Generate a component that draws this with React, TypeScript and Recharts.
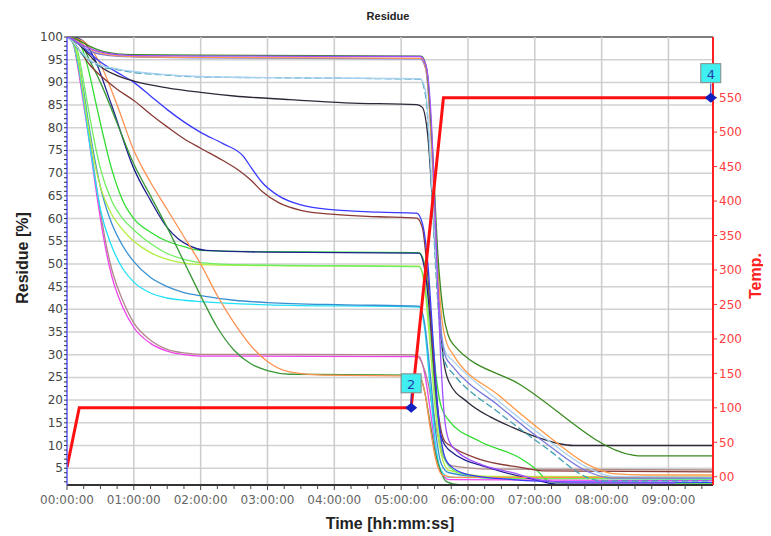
import React from 'react';
import { LineChart, Line, XAxis, YAxis, ReferenceLine, ReferenceDot } from 'recharts';

type Pt = [number, number];

// time in minutes, residue in %
const violet: Pt[] = [[0, 100], [5, 99.6], [10, 98.8], [20, 97.5], [30, 96.7], [45, 96.1], [60, 95.9], [120, 95.8], [317, 95.7], [322, 94], [327, 82], [331, 58], [335, 32], [339, 16], [343, 11], [350, 8.8], [370, 6], [400, 4], [430, 2.2], [460, 1.8], [546, 1.7]];
const olive: Pt[] = [[0, 100], [5, 99.8], [10, 99.3], [20, 98], [30, 97], [45, 96.3], [60, 96.1], [120, 96], [318, 95.8], [323, 93], [328, 76], [333, 52], [338, 39], [342, 34.5], [346, 32.5], [407, 23.4], [508, 7.9], [515, 7.7], [580, 7.7]];
const orange: Pt[] = [[0, 100], [5, 99.7], [10, 99], [20, 97.5], [30, 96.5], [45, 95.9], [60, 95.7], [120, 95.5], [318, 95.3], [323, 92], [328, 73], [333, 49], [337, 37], [341, 32.5], [346, 30.3], [389, 20.8], [430, 12.5], [470, 5.5], [490, 3.8], [520, 3.5], [580, 3.5]];
const slate: Pt[] = [[0, 100], [5, 99.5], [10, 98.5], [20, 97], [30, 96.2], [60, 95.6], [120, 95.4], [317, 95.2], [322, 93], [327, 78], [332, 52], [336, 35], [340, 29.5], [346, 27.5], [389, 18.5], [430, 10.5], [470, 4], [490, 2.8], [580, 2.8]];
const lightBlue: Pt[] = [[0, 100], [5, 99], [10, 97.5], [20, 95], [30, 93.8], [45, 93], [60, 92.4], [90, 91.7], [120, 91.3], [200, 91], [317, 90.8], [322, 88], [327, 70], [332, 48], [336, 35], [340, 30.5], [346, 28.8], [389, 19.5], [430, 11.5], [470, 4.8], [490, 3.2], [580, 3]];
const teal: Pt[] = [[0, 100], [5, 99], [10, 97.2], [20, 94.8], [30, 93.5], [45, 92.8], [60, 92.2], [90, 91.6], [120, 91.2], [200, 91], [317, 90.7], [322, 87], [327, 68], [332, 45], [336, 32], [340, 28], [346, 26], [389, 17], [430, 9.5], [470, 2.7], [480, 2.2], [580, 2.2]];
const black: Pt[] = [[0, 100], [5, 99.5], [10, 98.5], [20, 96], [30, 93.5], [45, 91.5], [60, 90.3], [90, 88.8], [120, 87.8], [150, 87], [200, 86.2], [250, 85.5], [314, 85.1], [319, 84.5], [324, 78], [329, 60], [334, 40], [338, 29], [343, 24], [360, 19.5], [380, 16.3], [400, 14], [420, 12], [440, 10.5], [455, 10], [580, 10]];
const blue: Pt[] = [[0, 100], [5, 99.5], [10, 98.5], [20, 96.5], [30, 94.5], [45, 92.2], [60, 90], [75, 87], [90, 84], [105, 81.3], [120, 79], [140, 76.5], [158, 73.8], [166, 71], [175, 68], [190, 65], [210, 63], [240, 61.9], [280, 61.4], [314, 61.2], [319, 59], [324, 50], [329, 32], [334, 15], [338, 8.5], [343, 5.8], [360, 3.6], [400, 2.5], [450, 2], [580, 1.9]];
const brown: Pt[] = [[0, 100], [5, 99], [10, 97.5], [20, 94], [30, 91.5], [45, 88.5], [60, 86], [75, 83], [90, 80.2], [105, 77.6], [120, 75.5], [140, 72.8], [155, 70.5], [165, 68.5], [175, 66], [190, 63.5], [210, 61.8], [240, 60.9], [280, 60.4], [314, 60.1], [319, 58], [324, 47], [329, 29], [334, 16], [339, 11], [344, 10], [370, 7], [407, 5.2], [430, 4.4], [580, 4.2]];
const green: Pt[] = [[0, 100], [5, 99.8], [10, 99.3], [15, 96.5], [20, 92], [25, 86.5], [30, 81], [40, 71], [50, 64], [60, 60], [75, 57], [90, 55], [105, 53.8], [120, 53], [180, 52.7], [316, 52.5], [321, 50], [326, 40], [331, 26], [336, 18.5], [343, 15.5], [370, 11], [407, 7.2], [420, 5], [434, 2], [450, 1.8], [580, 1.7]];
const navy: Pt[] = [[0, 100], [10, 99.7], [15, 99], [25, 95], [40, 85], [60, 71], [75, 64], [90, 58], [100, 55.5], [110, 54], [125, 53], [180, 52.6], [316, 52.4], [321, 49], [326, 38], [331, 22], [336, 12], [343, 9], [380, 5], [420, 2.5], [440, 1.5], [580, 1.4]];
const lightGreen: Pt[] = [[0, 100], [5, 99.4], [10, 96.5], [15, 90], [20, 83], [25, 76.5], [30, 71], [40, 64], [50, 60], [60, 57.5], [75, 54.5], [90, 52.3], [105, 51], [120, 50.3], [160, 49.8], [316, 49.4], [321, 46], [326, 35], [331, 20], [336, 10], [340, 6.5], [350, 4.2], [380, 2.8], [580, 2.6]];
const yellowGreen: Pt[] = [[0, 100], [5, 99], [10, 95], [15, 87], [20, 79], [25, 72], [30, 67], [40, 61], [50, 57.5], [60, 55], [75, 52.5], [90, 51], [105, 50.2], [130, 49.8], [200, 49.6], [316, 49.5], [321, 45], [326, 32], [331, 17], [336, 8], [343, 4.5], [380, 3.2], [580, 3.1]];
const steelBlue: Pt[] = [[0, 100], [5, 99], [10, 95], [15, 88], [20, 80], [25, 73], [30, 67], [40, 59], [50, 54], [60, 50.5], [75, 47], [90, 45], [105, 43.7], [120, 43], [150, 42], [180, 41.5], [250, 41], [316, 40.7], [321, 37], [326, 26], [331, 13], [336, 6], [343, 4], [380, 3], [580, 2.9]];
const cyan: Pt[] = [[0, 100], [5, 98.8], [10, 94], [15, 86], [20, 77], [25, 69], [30, 62], [40, 54], [50, 49], [60, 46], [75, 43.6], [90, 42.5], [105, 42], [120, 41.7], [180, 41], [316, 40.5], [321, 36], [326, 23], [331, 10], [336, 4.5], [343, 3], [580, 2.6]];
const magenta: Pt[] = [[0, 100], [5, 99], [10, 93], [15, 85], [20, 77], [25, 68], [30, 60], [35, 53], [40, 47.5], [50, 40.5], [60, 36], [75, 32.5], [90, 30.8], [105, 30], [120, 29.7], [316, 29.6], [321, 26], [326, 18], [331, 9], [336, 4], [343, 2.5], [580, 2.3]];
const rosy: Pt[] = [[0, 100], [5, 99], [10, 93.5], [15, 86], [20, 78], [25, 69.5], [30, 61.5], [35, 54.5], [40, 49], [50, 42], [60, 37], [75, 33.2], [90, 31.2], [105, 30.4], [120, 30.1], [310, 30], [314, 29.8], [319, 28], [324, 24], [329, 17], [334, 11], [339, 7], [346, 5.5], [380, 4.8], [580, 4.6]];
const forest: Pt[] = [[0, 100], [10, 99.5], [20, 95], [30, 90], [45, 81], [60, 72], [75, 65], [90, 58], [105, 50.5], [120, 43], [135, 36], [150, 31], [165, 28], [180, 26.5], [200, 25.7], [316, 25.5], [321, 22], [326, 15], [331, 8], [336, 4], [341, 2], [352, 1.4], [580, 1.3]];
const sandy: Pt[] = [[0, 100], [15, 99], [30, 94], [45, 85], [60, 75], [75, 68], [90, 62], [105, 56], [120, 50], [135, 43], [150, 37], [165, 32], [180, 28.5], [200, 26.2], [230, 25.5], [316, 25.3], [321, 22], [326, 14], [331, 7], [337, 3.5], [350, 3], [580, 3]];

// time in minutes, temperature in °C
const temperature: Pt[] = [[0, 14], [11, 100], [309, 100], [338, 550], [580, 550]];

const markers = [
  { label: '2', t: 309, temp: 100 },
  { label: '4', t: 578, temp: 550 },
];

const residueSeries: { key: string; data: Pt[] }[] = [
  { key: 'magenta', data: magenta },
  { key: 'rosy', data: rosy },
  { key: 'cyan', data: cyan },
  { key: 'steelBlue', data: steelBlue },
  { key: 'yellowGreen', data: yellowGreen },
  { key: 'lightGreen', data: lightGreen },
  { key: 'green', data: green },
  { key: 'navy', data: navy },
  { key: 'forest', data: forest },
  { key: 'sandy', data: sandy },
  { key: 'brown', data: brown },
  { key: 'blue', data: blue },
  { key: 'black', data: black },
  { key: 'teal', data: teal },
  { key: 'lightBlue', data: lightBlue },
  { key: 'slate', data: slate },
  { key: 'orange', data: orange },
  { key: 'olive', data: olive },
  { key: 'violet', data: violet },
];

const colors: Record<string, string> = {
  magenta: '#f040f0', rosy: '#b08888', cyan: '#20e0f8', steelBlue: '#3890d0',
  yellowGreen: '#b0ee40', lightGreen: '#70ee60', green: '#30dd30', navy: '#202090',
  forest: '#389838', sandy: '#ff9050', brown: '#8a3a34', blue: '#3838ff',
  black: '#302838', teal: '#40a0b0', lightBlue: '#a8d0f0', slate: '#7878e0',
  orange: '#ff9a48', olive: '#3a8a20', violet: '#a050ff',
};

const xTicks = [0, 60, 120, 180, 240, 300, 360, 420, 480, 540];
const xMinorTicks = Array.from({ length: 39 }, (_, i) => i * 15);
const residueTicks = [5, 10, 15, 20, 25, 30, 35, 40, 45, 50, 55, 60, 65, 70, 75, 80, 85, 90, 95, 100];
const residueMinorTicks = Array.from({ length: 99 }, (_, i) => i + 2);
const tempTicks = [0, 50, 100, 150, 200, 250, 300, 350, 400, 450, 500, 550];

const hhmmss = (m: number) => `${String(Math.floor(m / 60)).padStart(2, '0')}:00:00`;
const toRows = (pts: Pt[]) => pts.map(([t, v]) => ({ t, v }));

const FONT = '"DejaVu Sans", sans-serif';
const BOLD_FONT = '"Liberation Sans", Arial, sans-serif';

function TimeTick({ x, y, payload }: any) {
  const major = payload.value % 60 === 0;
  return (
    <g>
      <line x1={x} x2={x} y1={y} y2={y + (major ? 5 : 4)} stroke="#444" />
      {major && (
        <text x={x} y={y + 19} textAnchor="middle" fill="#666" fontSize={12} fontFamily={FONT}>
          {hhmmss(payload.value)}
        </text>
      )}
    </g>
  );
}

function ResidueTick({ x, y, payload }: any) {
  const major = payload.value % 5 === 0;
  return (
    <g>
      <line x1={x - 3} x2={x} y1={y} y2={y} stroke="#333" />
      {major && (
        <text x={x - 4} y={y + 4} textAnchor="end" fill="#444" fontSize={12} fontFamily={FONT}>
          {payload.value}
        </text>
      )}
    </g>
  );
}

function Marker({ cx, cy, label }: any) {
  return (
    <g>
      <line x1={cx} x2={cx} y1={cy - 14} y2={cy} stroke="#2030c0" />
      <path d={`M${cx - 6},${cy} L${cx},${cy - 5} L${cx + 6},${cy} L${cx},${cy + 5} Z`} fill="#1020c0" />
      <rect x={cx - 10} y={cy - 34} width={20} height={19} fill="#40f0f0" stroke="#888" />
      <text x={cx} y={cy - 19} textAnchor="middle" fill="#2040b0" fontSize={13} fontFamily={FONT}>{label}</text>
    </g>
  );
}

export default function App() {
  return (
    <div style={{ position: 'relative', width: 763, height: 528, background: '#fff' }}>
      <LineChart width={763} height={528} margin={{ top: 29, right: 8, left: 4, bottom: 16 }}>
        <XAxis
          xAxisId="t"
          dataKey="t"
          type="number"
          domain={[0, 580]}
          allowDataOverflow
          ticks={xMinorTicks}
          interval={0}
          tick={<TimeTick />}
          tickLine={false}
          tickSize={0}
          tickMargin={0}
          height={35}
          axisLine={{ stroke: '#333', strokeWidth: 2 }}
        />
        <YAxis
          yAxisId="left"
          type="number"
          domain={[1.3, 100]}
          allowDataOverflow
          ticks={residueMinorTicks}
          interval={0}
          tick={<ResidueTick />}
          tickLine={false}
          tickSize={0}
          tickMargin={0}
          width={55}
          axisLine={{ stroke: '#5a5aff', strokeWidth: 1.5 }}
        />
        <YAxis
          yAxisId="right"
          orientation="right"
          type="number"
          domain={[-12, 638]}
          allowDataOverflow
          ticks={tempTicks}
          interval={0}
          tickFormatter={(v: number) => (v === 0 ? '00' : String(v))}
          tick={{ fill: '#ff4040', fontSize: 12, fontFamily: FONT, textAnchor: 'start' }}
          tickLine={{ stroke: '#ff3030' }}
          tickSize={4}
          tickMargin={2}
          width={50}
          axisLine={{ stroke: '#ff2020', strokeWidth: 2 }}
        />
        {residueTicks.map((v) => (
          <ReferenceLine key={`h${v}`} xAxisId="t" yAxisId="left" y={v} stroke={v === 100 ? '#555' : '#d2d2d2'} strokeWidth={1.5} />
        ))}
        {xTicks.filter((v) => v > 0).map((v) => (
          <ReferenceLine key={`v${v}`} xAxisId="t" yAxisId="left" x={v} stroke="#cccccc" strokeWidth={1.5} />
        ))}
        {residueSeries.map((s) => (
          <Line
            key={s.key}
            xAxisId="t"
            yAxisId="left"
            data={toRows(s.data)}
            dataKey="v"
            type="monotone"
            stroke={colors[s.key]}
            strokeWidth={1.3}
            strokeDasharray={s.key === 'teal' ? '7 3' : undefined}
            dot={false}
            isAnimationActive={false}
          />
        ))}
        <Line
          xAxisId="t"
          yAxisId="right"
          data={toRows(temperature)}
          dataKey="v"
          type="linear"
          stroke="#ff1010"
          strokeWidth={3}
          dot={false}
          isAnimationActive={false}
        />
        {markers.map((m) => (
          <ReferenceDot
            key={m.label}
            xAxisId="t"
            yAxisId="right"
            x={m.t}
            y={m.temp}
            shape={(p: any) => <Marker {...p} label={m.label} />}
          />
        ))}
      </LineChart>
      <svg width={763} height={528} style={{ position: 'absolute', left: 0, top: 0, pointerEvents: 'none' }}>
        <text x={380} y={12} textAnchor="middle" fontSize={11} fontWeight="bold" fontFamily={BOLD_FONT} fill="#222">Residue</text>
        <text x={14} y={250} transform="rotate(-90 14 250)" textAnchor="middle" dominantBaseline="central" fontSize={16} fontWeight="bold" fontFamily={BOLD_FONT} fill="#222">Residue [%]</text>
        <text x={747} y={268} transform="rotate(-90 747 268)" textAnchor="middle" dominantBaseline="central" fontSize={16} fontWeight="bold" fontFamily={BOLD_FONT} fill="#ff2020">Temp.</text>
        <text x={382} y={515} textAnchor="middle" dominantBaseline="central" fontSize={16} fontWeight="bold" fontFamily={BOLD_FONT} fill="#222">Time [hh:mm:ss]</text>
      </svg>
    </div>
  );
}
